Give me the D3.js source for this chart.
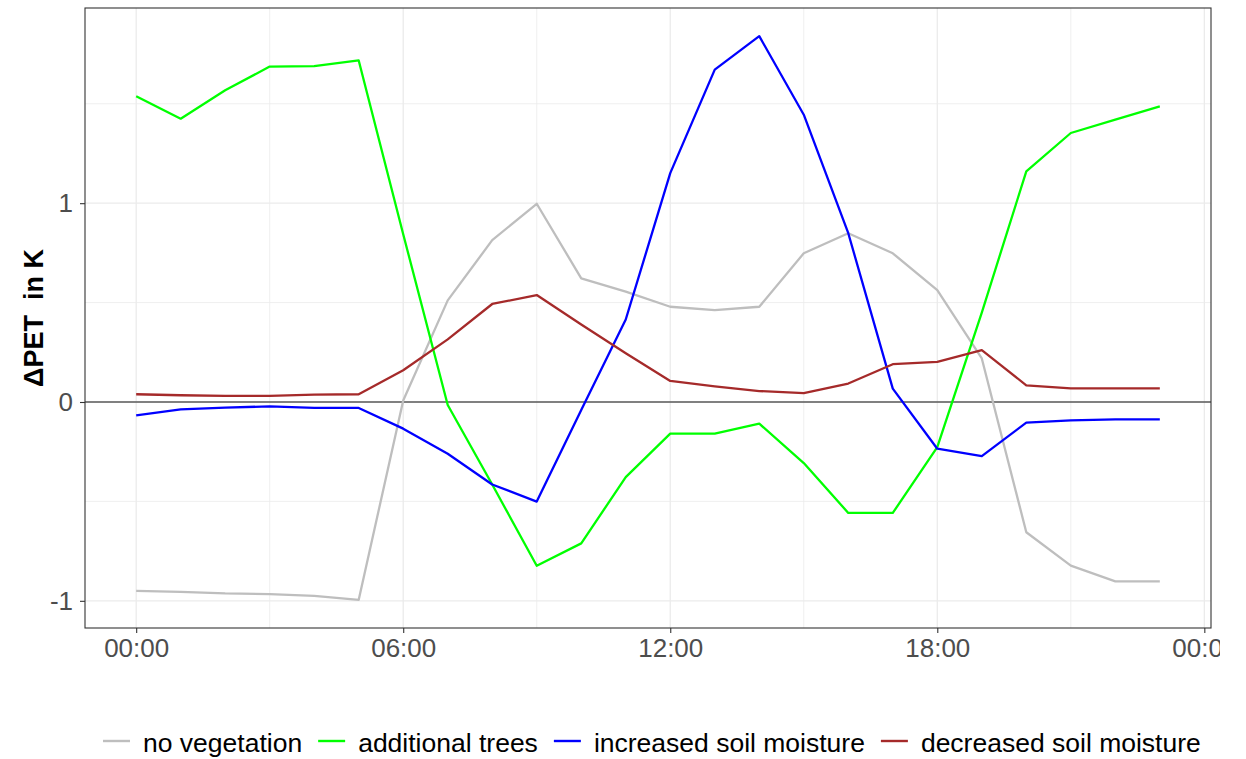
<!DOCTYPE html>
<html>
<head>
<meta charset="utf-8">
<script src="https://cdn.jsdelivr.net/npm/d3@7"></script>
<style>
  body { margin: 0; background: #fff; }
  text { font-family: "Liberation Sans", Arial, sans-serif; }
</style>
</head>
<body>
<svg id="chart"></svg>
<script>
// hours of the day (0..23)
var hours = [0,1,2,3,4,5,6,7,8,9,10,11,12,13,14,15,16,17,18,19,20,21,22,23];

var noVegetation = [-0.950,-0.955,-0.963,-0.966,-0.975,-0.995,0.008,0.511,0.814,0.997,0.622,0.555,
                    0.479,0.462,0.479,0.748,0.849,0.748,0.563,0.219,-0.655,-0.823,-0.902,-0.902];
var additionalTrees = [1.538,1.425,1.568,1.687,1.689,1.718,0.844,-0.015,-0.415,-0.824,-0.711,-0.378,
                       -0.159,-0.159,-0.109,-0.307,-0.558,-0.558,-0.227,0.450,1.160,1.353,1.420,1.487];
var increasedSoil = [-0.067,-0.037,-0.028,-0.022,-0.030,-0.030,-0.134,-0.260,-0.415,-0.501,-0.040,0.415,
                     1.151,1.672,1.840,1.445,0.849,0.067,-0.235,-0.272,-0.104,-0.092,-0.087,-0.087];
var decreasedSoil = [0.039,0.034,0.031,0.031,0.037,0.039,0.160,0.315,0.493,0.538,0.390,0.245,
                     0.106,0.079,0.055,0.045,0.093,0.190,0.202,0.261,0.084,0.069,0.069,0.069];

var seriesNames = ["no vegetation", "additional trees", "increased soil moisture", "decreased soil moisture"];
var seriesColors = ["#bebebe", "#00ff00", "#0000ff", "#a52a2a"];
var seriesValues = [noVegetation, additionalTrees, increasedSoil, decreasedSoil];

var yTicks = [-1, 0, 1];
var yMinor = [-0.5, 0.5, 1.5];

var width = 1246, height = 759;
var panel = {left: 85, right: 1211, top: 8, bottom: 628};

var base = Date.UTC(2020, 0, 1);
function hourDate(h) { return new Date(base + h * 3600 * 1000); }

var svg = d3.select('#chart')
  .attr('width', width)
  .attr('height', height);

// ggplot style 5% expansion
var xExt = d3.extent(hours);
var xPad = (xExt[1] - xExt[0]) * 0.05;
var x = d3.scaleUtc()
  .domain([hourDate(xExt[0] - xPad), hourDate(xExt[1] + xPad)])
  .range([panel.left, panel.right]);

var allVals = d3.merge(seriesValues);
var yExt = d3.extent(allVals);
var yPad = (yExt[1] - yExt[0]) * 0.05;
var y = d3.scaleLinear()
  .domain([yExt[0] - yPad, yExt[1] + yPad])
  .range([panel.bottom, panel.top]);

var xMajor = x.ticks(d3.utcHour.every(6));
var xMinor = x.ticks(d3.utcHour.every(3)).filter(d => d.getUTCHours() % 6 !== 0);

// grid
var grid = svg.append('g');
grid.selectAll('.ymin').data(yMinor).enter().append('line')
  .attr('x1', panel.left).attr('x2', panel.right)
  .attr('y1', d => y(d)).attr('y2', d => y(d))
  .attr('stroke', '#ebebeb').attr('stroke-width', 0.8);
grid.selectAll('.xmin').data(xMinor).enter().append('line')
  .attr('y1', panel.top).attr('y2', panel.bottom)
  .attr('x1', d => x(d)).attr('x2', d => x(d))
  .attr('stroke', '#ebebeb').attr('stroke-width', 0.8);
grid.selectAll('.ymaj').data(yTicks).enter().append('line')
  .attr('x1', panel.left).attr('x2', panel.right)
  .attr('y1', d => y(d)).attr('y2', d => y(d))
  .attr('stroke', '#ebebeb').attr('stroke-width', 1.3);
grid.selectAll('.xmaj').data(xMajor).enter().append('line')
  .attr('y1', panel.top).attr('y2', panel.bottom)
  .attr('x1', d => x(d)).attr('x2', d => x(d))
  .attr('stroke', '#ebebeb').attr('stroke-width', 1.3);

// zero line
svg.append('line')
  .attr('x1', panel.left).attr('x2', panel.right)
  .attr('y1', y(0)).attr('y2', y(0))
  .attr('stroke', '#111').attr('stroke-width', 1.1);

// series lines
var line = d3.line()
  .x((d, i) => x(hourDate(hours[i])))
  .y(d => y(d));

svg.selectAll('.series')
  .data(seriesValues)
  .enter()
  .append('path')
    .attr('d', line)
    .attr('fill', 'none')
    .attr('stroke', (d, i) => seriesColors[i])
    .attr('stroke-width', 2.3)
    .attr('stroke-linejoin', 'round');

// panel border
svg.append('rect')
  .attr('x', panel.left).attr('y', panel.top)
  .attr('width', panel.right - panel.left)
  .attr('height', panel.bottom - panel.top)
  .attr('fill', 'none').attr('stroke', '#333').attr('stroke-width', 1.1);

// axes
svg.append('clipPath').attr('id', 'xclip')
  .append('rect').attr('x', 0).attr('y', 0).attr('width', 1220).attr('height', height);

var xAxis = svg.append('g')
  .attr('transform', 'translate(0,' + panel.bottom + ')')
  .attr('clip-path', 'url(#xclip)')
  .call(d3.axisBottom(x).tickValues(xMajor).tickFormat(d3.utcFormat('%H:%M')).tickSize(5).tickPadding(6));
xAxis.select('.domain').remove();
xAxis.selectAll('.tick line').attr('stroke', '#333').attr('stroke-width', 1.1);
xAxis.selectAll('.tick text').attr('fill', '#4d4d4d').style('font-size', '26px');

var yAxis = svg.append('g')
  .attr('transform', 'translate(' + panel.left + ',0)')
  .call(d3.axisLeft(y).tickValues(yTicks).tickFormat(d => String(d)).tickSize(5).tickPadding(7));
yAxis.select('.domain').remove();
yAxis.selectAll('.tick line').attr('stroke', '#333').attr('stroke-width', 1.1);
yAxis.selectAll('.tick text').attr('fill', '#4d4d4d').style('font-size', '26px');

// y title
svg.append('text')
  .attr('transform', 'translate(42.5,' + (panel.top + panel.bottom) / 2 + ') rotate(-90)')
  .attr('text-anchor', 'middle')
  .style('font-size', '27px')
  .style('font-weight', 'bold')
  .style('white-space', 'pre')
  .text('\u0394PET  in K');

// legend
var legend = svg.append('g');
var lx = 103, ly = 741;
seriesNames.forEach(function(name, i) {
  legend.append('line')
    .attr('x1', lx).attr('x2', lx + 27)
    .attr('y1', ly).attr('y2', ly)
    .attr('stroke', seriesColors[i]).attr('stroke-width', 2.4);
  var t = legend.append('text')
    .attr('x', lx + 40).attr('y', ly + 11)
    .style('font-size', '26.5px')
    .attr('fill', '#000')
    .text(name);
  lx = lx + 40 + t.node().getComputedTextLength() + 16;
});
</script>
</body>
</html>
